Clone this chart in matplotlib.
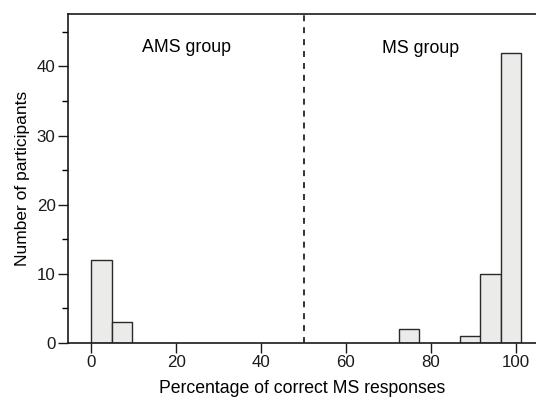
import matplotlib
matplotlib.use("Agg")
import matplotlib.pyplot as plt
from matplotlib.ticker import MultipleLocator

plt.rcParams['font.family'] = ['Liberation Sans', 'DejaVu Sans']

# histogram bins (left edge, % correct) and counts
bin_left = [0.0, 4.83, 72.4, 86.9, 91.7, 96.5]
counts = [12, 3, 2, 1, 10, 42]
bin_width = 4.83

x_ticks = [0, 20, 40, 60, 80, 100]
y_ticks = [0, 10, 20, 30, 40]
cutoff = 50

fig = plt.figure(figsize=(5.36, 4.0), dpi=100)
ax = fig.add_axes([0.127, 0.143, 0.873, 0.822])

ax.bar(bin_left, counts, width=bin_width, align='edge',
       color='#ebecea', edgecolor='#2a2a2a', linewidth=1.0, zorder=2)
ax.axvline(cutoff, color='#222222', linestyle=(0, (3.3, 3.3)), linewidth=1.3, zorder=3)

ax.text(22.3, 42.7, "AMS group", ha='center', va='center', fontsize=12.8)
ax.text(77.7, 42.6, "MS group", ha='center', va='center', fontsize=12.8)

ax.set_xlim(-5.5, 104.8)
ax.set_ylim(0, 47.6)
ax.set_xticks(x_ticks)
ax.set_yticks(y_ticks)
ax.yaxis.set_minor_locator(MultipleLocator(5))

ax.spines['right'].set_visible(False)
for s in ['left', 'top', 'bottom']:
    ax.spines[s].set_linewidth(1.2)
    ax.spines[s].set_color('#1a1a1a')

ax.tick_params(axis='both', which='major', direction='out', length=7,
               width=1.0, labelsize=12.2, colors='#1a1a1a', pad=2)
ax.tick_params(axis='y', which='minor', direction='out', length=4, width=1.0)

ax.set_xlabel("Percentage of correct MS responses", fontsize=12.7, labelpad=7)
ax.set_ylabel("Number of participants", fontsize=12.5, labelpad=5)

fig.savefig("out.png", dpi=100)
